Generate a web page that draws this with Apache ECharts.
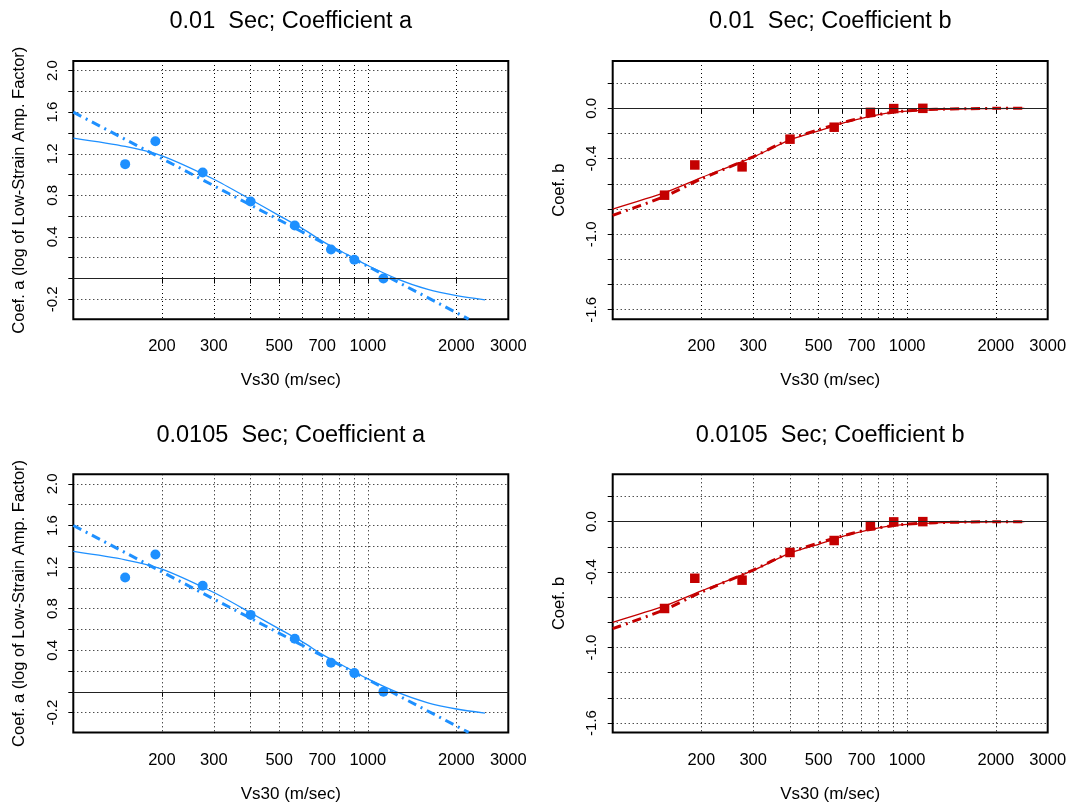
<!DOCTYPE html>
<html>
<head>
<meta charset="utf-8">
<title>Coefficients a and b versus Vs30</title>
<script src="https://cdn.jsdelivr.net/npm/echarts@6/dist/echarts.min.js"></script>
<style>
  html, body { margin: 0; padding: 0; background: #fff; }
  #chart { width: 1073px; height: 805px; }
</style>
</head>
<body>
<div id="chart"></div>
<script>
// Spectral periods shown, one row of panels each
const periods = ['0.01', '0.0105'];

// Site-class Vs30 values (m/sec) and the estimated coefficients
const vs30 = [150, 190, 275, 400, 565, 750, 900, 1130];
const coefA = [1.10, 1.32, 1.02, 0.74, 0.51, 0.28, 0.18, 0.00];
const coefB = [-0.69, -0.45, -0.465, -0.245, -0.15, -0.032, -0.002, 0.00];

// Smooth fitted curves (thin solid) sampled along Vs30
const curveVs = [100, 150, 200, 300, 400, 500, 600, 700, 800, 900, 1000, 1250, 1600, 2000, 2500];
const curveA = [1.35, 1.27, 1.18, 0.955, 0.76, 0.605, 0.48, 0.36, 0.27, 0.195, 0.125, 0.00, -0.105, -0.165, -0.205];
const curveB = [-0.80, -0.67, -0.55, -0.387, -0.25, -0.18, -0.12, -0.08, -0.05, -0.032, -0.022, -0.01, -0.004, -0.002, 0.00];

// Alternative fits (thick dash-dot)
const lineAVs = [100, 2200];
const lineA = [1.60, -0.39];
const dashB = [-0.85, -0.70, -0.56, -0.385, -0.245, -0.17, -0.115, -0.075, -0.05, -0.03, -0.02, -0.008, -0.003, 0.00, 0.00];

// Axis ticks and labels
const xTicks = [200, 300, 400, 500, 600, 700, 800, 900, 1000, 2000, 3000];
const xLabels = [200, 300, 500, 700, 1000, 2000, 3000];
const yTicksA = [-0.2, 0, 0.2, 0.4, 0.6, 0.8, 1.0, 1.2, 1.4, 1.6, 1.8, 2.0];
const yLabelsA = [-0.2, 0.4, 0.8, 1.2, 1.6, 2.0];
const yTicksB = [-1.6, -1.4, -1.2, -1.0, -0.8, -0.6, -0.4, -0.2, 0, 0.2];
const yLabelsB = [-1.6, -1.0, -0.4, 0];

const BLUE = '#1E90FF';
const RED = '#C40000';
const FONT = '"Liberation Sans", Arial, Helvetica, sans-serif';

const pairs = (xs, ys) => xs.map((x, i) => [x, ys[i]]);

// Panel layout
const colLeft = [73.3, 612.7];
const rowTop = [61, 474.3];
const plotW = 435;
const plotH = 258.3;

const grids = [], xAxes = [], yAxes = [], series = [], titles = [];

const dottedGrid = { show: true, lineStyle: { color: '#000', width: 1, type: [1, 3] } };
const zeroLine = {
  silent: true, symbol: 'none', animation: false,
  label: { show: false },
  lineStyle: { color: '#222', width: 1, type: 'solid' },
  data: [{ yAxis: 0 }]
};

let idx = 0;
periods.forEach((per, r) => {
  ['a', 'b'].forEach((coef, c) => {
    const isA = coef === 'a';
    grids.push({
      left: colLeft[c], top: rowTop[r], width: plotW, height: plotH,
      show: true, borderColor: '#000', borderWidth: 2, backgroundColor: 'transparent'
    });
    titles.push({
      text: per + '  Sec; Coefficient ' + coef,
      left: colLeft[c] + plotW / 2, top: rowTop[r] - 51, textAlign: 'center', padding: 0,
      textStyle: { fontFamily: FONT, fontSize: 23.5, fontWeight: 'normal', color: '#000', lineHeight: 24 }
    });
    xAxes.push({
      type: 'log', logBase: 10, gridIndex: idx, min: 100, max: 3000,
      axisLine: { show: false },
      axisTick: { show: true, length: 5, customValues: xTicks, lineStyle: { color: '#000', width: 1 } },
      axisLabel: {
        customValues: xLabels, margin: 19, fontFamily: FONT, fontSize: 16.5, color: '#000',
        formatter: v => String(Math.round(v))
      },
      splitLine: dottedGrid,
      name: 'Vs30 (m/sec)', nameLocation: 'middle', nameGap: 53,
      nameTextStyle: { fontFamily: FONT, fontSize: 17, color: '#000' }
    });
    yAxes.push({
      type: 'value', gridIndex: idx,
      min: isA ? -0.392 : -1.676, max: isA ? 2.092 : 0.376,
      axisLine: { show: false },
      axisTick: { show: true, length: 5, customValues: isA ? yTicksA : yTicksB, lineStyle: { color: '#000', width: 1 } },
      axisLabel: {
        customValues: isA ? yLabelsA : yLabelsB, rotate: 90, margin: 13,
        fontFamily: FONT, fontSize: 15, color: '#000',
        formatter: v => Number(v).toFixed(1)
      },
      splitLine: dottedGrid,
      name: isA ? 'Coef. a (log of Low-Strain Amp. Factor)' : 'Coef. b',
      nameLocation: 'middle', nameGap: 45,
      nameTextStyle: { fontFamily: FONT, fontSize: 16.5, color: '#000' }
    });

    const color = isA ? BLUE : RED;
    series.push({
      type: 'line', xAxisIndex: idx, yAxisIndex: idx, clip: true,
      data: pairs(curveVs, isA ? curveA : curveB),
      smooth: 0.25, showSymbol: false, symbol: 'none',
      lineStyle: { color: color, width: 1.3 },
      markLine: zeroLine, z: 2
    });
    series.push({
      type: 'line', xAxisIndex: idx, yAxisIndex: idx, clip: true,
      data: isA ? pairs(lineAVs, lineA) : pairs(curveVs, dashB),
      smooth: isA ? false : 0.25, showSymbol: false, symbol: 'none',
      lineStyle: { color: color, width: 3, type: [9, 5, 2, 5] }, z: 3
    });
    series.push({
      type: 'scatter', xAxisIndex: idx, yAxisIndex: idx,
      data: pairs(vs30, isA ? coefA : coefB),
      symbol: isA ? 'circle' : 'rect', symbolSize: isA ? 10 : 9.5,
      itemStyle: { color: color, opacity: 1 }, z: 4
    });
    idx++;
  });
});

const chart = echarts.init(document.getElementById('chart'), null, { renderer: 'canvas' });
chart.setOption({
  animation: false,
  backgroundColor: '#fff',
  textStyle: { fontFamily: FONT },
  title: titles,
  grid: grids,
  xAxis: xAxes,
  yAxis: yAxes,
  series: series
});
</script>
</body>
</html>
